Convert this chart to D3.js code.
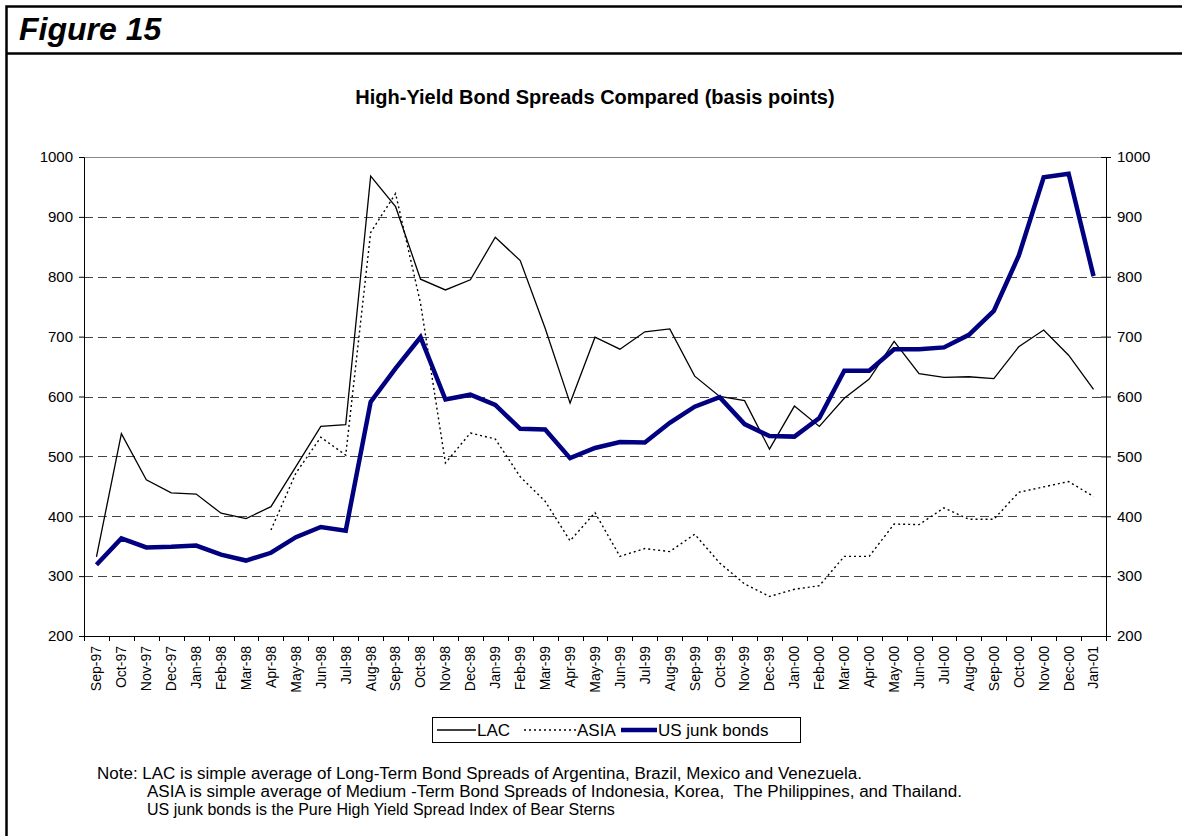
<!DOCTYPE html>
<html><head><meta charset="utf-8">
<script src="https://cdn.jsdelivr.net/npm/d3@7"></script>
<style>
html,body{margin:0;padding:0;background:#fff;}
svg{display:block;font-family:Arial,"Liberation Sans",sans-serif;}
</style></head>
<body><svg id="c" width="1182" height="836"></svg>
<script>
const categories = ["Sep-97","Oct-97","Nov-97","Dec-97","Jan-98","Feb-98","Mar-98","Apr-98","May-98","Jun-98","Jul-98","Aug-98","Sep-98","Oct-98","Nov-98","Dec-98","Jan-99","Feb-99","Mar-99","Apr-99","May-99","Jun-99","Jul-99","Aug-99","Sep-99","Oct-99","Nov-99","Dec-99","Jan-00","Feb-00","Mar-00","Apr-00","May-00","Jun-00","Jul-00","Aug-00","Sep-00","Oct-00","Nov-00","Dec-00","Jan-01"];
const lac = [332,538,461,439,437,405,396,416,483,550,553,968,917,796,778,795,866,827,714,589,699,679,708,713,634,600,593,512,584,550,597,629,692,638,632,633,630,683,711,669,612];
const asia = [null,null,null,null,null,null,null,377,472,532,502,874,939,756,489,539,529,466,425,359,406,333,346,341,370,322,287,266,278,284,333,333,387,386,414,395,395,440,449,458,433];
const usJunk = [319,363,348,349,351,336,326,339,365,382,376,591,647,699,595,603,586,546,545,497,514,524,523,556,583,599,554,534,533,564,643,643,679,679,682,703,743,835,966,972,801];
const yTicks = [200,300,400,500,600,700,800,900,1000];
const seriesNames = ["LAC","ASIA","US junk bonds"];
const noteLines = [
  "Note: LAC is simple average of Long-Term Bond Spreads of Argentina, Brazil, Mexico and Venezuela.",
  "ASIA is simple average of Medium -Term Bond Spreads of Indonesia, Korea,\u00a0 The Philippines, and Thailand.",
  "US junk bonds is the Pure High Yield Spread Index of Bear Sterns"
];

const svg = d3.select("#c");
const L = 84, R = 1106, T = 157, B = 636;
const x = d3.scaleBand().domain(categories).range([L, R]).padding(0);
const cx = d => x(d) + x.bandwidth()/2;
const y = d3.scaleLinear().domain([200,1000]).range([B, T]);

// frame
svg.append("path").attr("d", `M6.5,836 V6.5 H1182`).attr("fill","none").attr("stroke","#000").attr("stroke-width",2.5);
svg.append("line").attr("x1",6.5).attr("x2",1182).attr("y1",53.5).attr("y2",53.5).attr("stroke","#000").attr("stroke-width",2.5);
svg.append("text").attr("x",19).attr("y",40).attr("font-size",32).attr("font-weight","bold").attr("font-style","italic").text("Figure 15");
svg.append("text").attr("x",595).attr("y",104).attr("text-anchor","middle").attr("font-size",20).attr("font-weight","bold").text("High-Yield Bond Spreads Compared (basis points)");

// gridlines
svg.append("g").selectAll("line").data(yTicks.filter(v => v>200 && v<1000)).join("line")
  .attr("x1",L).attr("x2",R).attr("y1",d=>Math.round(y(d))+0.5).attr("y2",d=>Math.round(y(d))+0.5)
  .attr("stroke","#444").attr("stroke-width",1).attr("stroke-dasharray","9,5");
svg.append("line").attr("x1",L).attr("x2",R).attr("y1",T+0.5).attr("y2",T+0.5).attr("stroke","#888").attr("stroke-width",1);

// axes
const fmt = d3.format("d");
const leftAxis = svg.append("g").attr("transform",`translate(${L},0)`).call(d3.axisLeft(y).tickValues(yTicks).tickFormat(fmt).tickSize(5).tickPadding(6));
const rightAxis = svg.append("g").attr("transform",`translate(${R},0)`).call(d3.axisRight(y).tickValues(yTicks).tickFormat(fmt).tickSize(5).tickPadding(6));
rightAxis.selectAll(".tick line").attr("x1",-5);
[leftAxis,rightAxis].forEach(g=>{
  g.select(".domain").attr("stroke","#000");
  g.selectAll("text").attr("font-size",15).attr("font-family","Arial,'Liberation Sans',sans-serif").attr("fill","#000");
});
const xAxis = svg.append("g").attr("transform",`translate(0,${B})`).call(d3.axisBottom(x).tickSize(0));
xAxis.select(".domain").attr("stroke","#000");
xAxis.selectAll("text").attr("font-size",14).attr("font-family","Arial,'Liberation Sans',sans-serif").attr("fill","#000")
  .attr("transform","rotate(-90)").attr("text-anchor","end").attr("x",-10).attr("y",0).attr("dy","0.35em");
svg.append("g").selectAll("line").data(categories.map(c=>x(c)).concat([R])).join("line")
  .attr("x1",d=>Math.round(d)+0.5).attr("x2",d=>Math.round(d)+0.5).attr("y1",B).attr("y2",B+5).attr("stroke","#000");

// lines
const line = d3.line().defined(d=>d.v!=null).x(d=>cx(d.c)).y(d=>y(d.v));
const mk = arr => categories.map((c,i)=>({c, v: arr[i]}));
svg.append("path").datum(mk(asia)).attr("d",line).attr("fill","none").attr("stroke","#000").attr("stroke-width",1.4).attr("stroke-dasharray","2,3");
svg.append("path").datum(mk(lac)).attr("d",line).attr("fill","none").attr("stroke","#000").attr("stroke-width",1.3);
svg.append("path").datum(mk(usJunk)).attr("d",line).attr("fill","none").attr("stroke","#000080").attr("stroke-width",4.5).attr("stroke-linejoin","miter");

// legend
const lg = svg.append("g");
lg.append("rect").attr("x",432.5).attr("y",717.5).attr("width",368).attr("height",25).attr("fill","#fff").attr("stroke","#000");
const legItems = [
  {name: seriesNames[0], x0:437, x1:476, w:1.3, dash:null, col:"#000"},
  {name: seriesNames[1], x0:524, x1:576, w:1.4, dash:"2,3", col:"#000"},
  {name: seriesNames[2], x0:621, x1:657, w:4.5, dash:null, col:"#000080"}
];
legItems.forEach(it=>{
  lg.append("line").attr("x1",it.x0).attr("x2",it.x1).attr("y1",730).attr("y2",730).attr("stroke",it.col).attr("stroke-width",it.w).attr("stroke-dasharray",it.dash);
  lg.append("text").attr("x",it.x1+1).attr("y",736).attr("font-size",17).text(it.name);
});

// notes
const nx = [97,147,147], ny = [779,797,815], nw = [765,815,null];
svg.append("g").selectAll("text").data(noteLines).join("text")
  .attr("x",(d,i)=>nx[i]).attr("y",(d,i)=>ny[i]).attr("font-size",16)
  .attr("textLength",(d,i)=>nw[i]).attr("lengthAdjust",(d,i)=>nw[i]?"spacingAndGlyphs":null).text(d=>d);
</script></body></html>
